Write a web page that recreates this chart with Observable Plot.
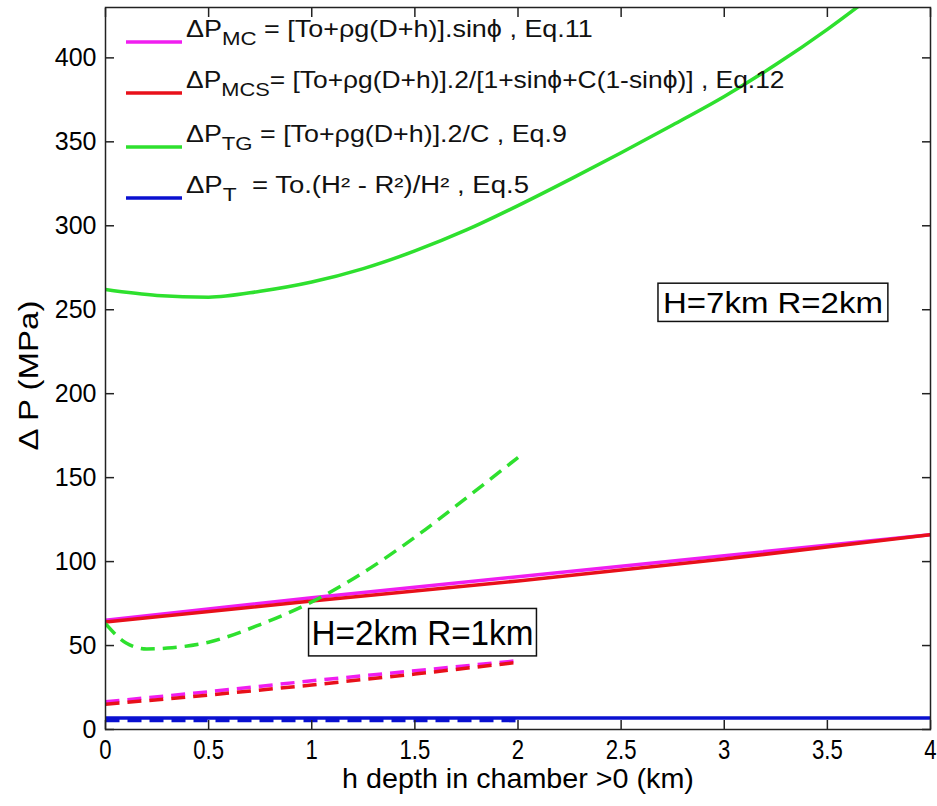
<!DOCTYPE html>
<html>
<head>
<meta charset="utf-8">
<script src="https://cdn.jsdelivr.net/npm/d3@7"></script>
<script src="https://cdn.jsdelivr.net/npm/@observablehq/plot@0.6"></script>
<style>
  html, body { margin: 0; padding: 0; background: #fff; }
  #chart { width: 937px; height: 806px; }
</style>
</head>
<body>
<div id="chart"></div>
<script>
// ---------------- DATA ----------------
const xTicks = [0, 0.5, 1, 1.5, 2, 2.5, 3, 3.5, 4];
const yTicks = [0, 50, 100, 150, 200, 250, 300, 350, 400];

// H=7km R=2km (solid lines), h from 0 to 4 km
const hLinear7 = [0, 1, 2, 3, 4];
const mcH7  = [65, 78.5, 91, 103.5, 116];     // ΔP_MC  Eq.11
const mcsH7 = [64, 76.5, 88.5, 101.5, 116];   // ΔP_MCS Eq.12
const hTG7  = [0, 0.25, 0.5, 0.75, 1, 1.25, 1.5, 1.75, 2, 2.25, 2.5, 2.75, 3, 3.25, 3.5, 3.75];
const tgH7  = [262, 258.5, 257.5, 261, 266.5, 274.5, 285, 297.5, 312, 327.5, 343.5, 360, 377, 396, 417, 440]; // ΔP_TG Eq.9
const hT7   = [0, 4];
const tH7   = [6.9, 6.9];                      // ΔP_T Eq.5

// H=2km R=1km (dashed lines), h from 0 to 2 km
const hLinear2 = [0, 0.5, 1, 1.5, 2];
const mcH2  = [16.5, 22.5, 29, 35, 41];
const mcsH2 = [15, 20.5, 26.5, 33, 40];
const hTG2  = [0, 0.1, 0.2, 0.3, 0.5, 0.75, 1, 1.25, 1.5, 1.75, 2];
const tgH2  = [63, 51.5, 48, 48.5, 52, 62.5, 76, 93.5, 114.5, 138, 162];
const hT2   = [0, 2];
const tH2   = [5.3, 5.3];

// Legend text
const legendMain = ["ΔP", "ΔP", "ΔP", "ΔP"];
const legendSub  = ["MC", "MCS", "TG", "T"];
const legendRest = [
  " = [To+ρg(D+h)].sinϕ , Eq.11",
  "= [To+ρg(D+h)].2/[1+sinϕ+C(1-sinϕ)] , Eq.12",
  " = [To+ρg(D+h)].2/C , Eq.9",
  "  = To.(H² - R²)/H² , Eq.5"
];

// Annotations
const annoLabel = ["H=7km R=2km", "H=2km R=1km"];
const annoX = [3.236, 1.537];
const annoY = [253.9, 57.4];

const xLabel = "h depth in chamber >0 (km)";
const yLabel = "Δ P (MPa)";

// ---------------- STYLES ----------------
const COLORS = { mc: "#f01ef0", mcs: "#e8101a", tg: "#2ee02e", t: "#0a10d0" };
const DASH = "14,8";
const FONT = "'Liberation Sans', Arial, Helvetica, sans-serif";

const rows = (xs, ys) => xs.map((h, i) => ({ h, v: ys[i] }));

const series = [
  { d: rows(hLinear7, mcH7),  stroke: COLORS.mc,  dash: null, curve: "linear" },
  { d: rows(hLinear7, mcsH7), stroke: COLORS.mcs, dash: null, curve: "linear" },
  { d: rows(hTG7, tgH7),      stroke: COLORS.tg,  dash: null, curve: "monotone-x" },
  { d: rows(hT7, tH7),        stroke: COLORS.t,   dash: null, curve: "linear" },
  { d: rows(hLinear2, mcH2),  stroke: COLORS.mc,  dash: DASH, curve: "linear" },
  { d: rows(hLinear2, mcsH2), stroke: COLORS.mcs, dash: DASH, curve: "linear" },
  { d: rows(hTG2, tgH2),      stroke: COLORS.tg,  dash: DASH, curve: "monotone-x" },
  { d: rows(hT2, tH2),        stroke: COLORS.t,   dash: DASH, curve: "linear" }
];

const annotations = annoLabel.map((label, i) => ({ label, x: annoX[i], y: annoY[i] }));

const plot = Plot.plot({
  width: 937,
  height: 806,
  marginLeft: 105,
  marginRight: 7,
  marginTop: 7,
  marginBottom: 77,
  style: { fontFamily: FONT, background: "#fff", color: "#000", overflow: "visible" },
  x: { domain: [0, 4] },
  y: { domain: [0, 430] },
  marks: [
    ...series.map(s => Plot.line(s.d, {
      x: "h", y: "v", stroke: s.stroke, strokeWidth: 3.5,
      strokeDasharray: s.dash, strokeLinecap: "butt", curve: s.curve, clip: true
    })),
    Plot.text(annotations, {
      x: "x", y: "y", text: "label", fill: "#000",
      fontSize: (d, i) => (i === 0 ? 30 : 36), textAnchor: "middle", lineAnchor: "middle"
    }),
    Plot.frame({ stroke: "#222", strokeWidth: 1.5 }),
    Plot.axisX({ anchor: "bottom", ticks: xTicks, tickSize: -9, tickPadding: 19,
      tickFormat: d => String(d), fontSize: 27, label: null, stroke: "#222", strokeWidth: 1.5 }),
    Plot.axisX({ anchor: "top", ticks: xTicks, tickSize: -9, tickFormat: () => "",
      label: null, stroke: "#222", strokeWidth: 1.5 }),
    Plot.axisY({ anchor: "left", ticks: yTicks, tickSize: -9, tickPadding: 18,
      tickFormat: d => String(d), fontSize: 25, label: null, stroke: "#222", strokeWidth: 1.5 }),
    Plot.axisY({ anchor: "right", ticks: yTicks, tickSize: -9, tickFormat: () => "",
      label: null, stroke: "#222", strokeWidth: 1.5 }),
    Plot.text([xLabel], { frameAnchor: "bottom", dy: 50, text: d => d, fontSize: 27,
      fill: "#000", textAnchor: "middle", lineAnchor: "middle" }),
    Plot.text([yLabel], { frameAnchor: "left", dx: -76, dy: 7, rotate: -90, text: d => d,
      fontSize: 27, fill: "#000", textAnchor: "middle", lineAnchor: "middle" })
  ]
});

document.getElementById("chart").appendChild(plot);

// ---------------- POST-PROCESSING (text shaping, boxes, legend) ----------------
const NS = "http://www.w3.org/2000/svg";
const svg = plot.tagName.toLowerCase() === "svg" ? plot : plot.querySelector("svg");

function wrap(el) {
  const g = document.createElementNS(NS, "g");
  el.parentNode.insertBefore(g, el);
  g.appendChild(el);
  return g;
}
function scaleAbout(el, sx, sy, ax) {
  const g = wrap(el);
  const b = g.getBBox();
  const cx = b.x + b.width * ax, cy = b.y + b.height / 2;
  g.setAttribute("transform", `translate(${cx},${cy}) scale(${sx},${sy}) translate(${-cx},${-cy})`);
  return g;
}
const allText = () => Array.from(svg.querySelectorAll("text"));

// x tick labels: tall & narrow in the reference
const xTickStrings = xTicks.map(String);
svg.querySelectorAll('g[aria-label="x-axis tick label"] text').forEach(t => {
  if (xTickStrings.includes(t.textContent)) scaleAbout(t, 0.82, 1, 0.5);
});

// axis titles
allText().forEach(t => {
  if (t.textContent === xLabel) {
    const w = t.getBBox().width;
    scaleAbout(t, 352 / w, 1, 0.5);
  } else if (t.textContent === yLabel) {
    const g = wrap(t);
    const b = g.getBBox();
    const cx = b.x + b.width / 2, cy = b.y + b.height / 2;
    const s = 150 / b.height;
    g.setAttribute("transform", `translate(${cx},${cy}) scale(1,${s}) translate(${-cx},${-cy})`);
  }
});

// annotation boxes
const annoWidth = [220, 222];
const annoPad = [[5, 4], [3, 6]];
allText().forEach(t => {
  const i = annoLabel.indexOf(t.textContent);
  if (i < 0) return;
  const w0 = t.getBBox().width;
  const g = scaleAbout(t, annoWidth[i] / w0, 1, 0.5);
  const b = g.getBoundingClientRect();
  const sb = svg.getBoundingClientRect();
  const r = document.createElementNS(NS, "rect");
  r.setAttribute("x", b.left - sb.left - annoPad[i][0]);
  r.setAttribute("y", b.top - sb.top - annoPad[i][1] + 2);
  r.setAttribute("width", b.width + 2 * annoPad[i][0]);
  r.setAttribute("height", b.height + 2 * annoPad[i][1] - 4);
  r.setAttribute("fill", "none");
  r.setAttribute("stroke", "#111");
  r.setAttribute("stroke-width", 1.5);
  svg.appendChild(r);
});

// legend (inside the plot, top-left)
const legendColors = [COLORS.mc, COLORS.mcs, COLORS.tg, COLORS.t];
const legendBase = [37, 88, 142, 193];
const legendEnd = [593, 785, 567, 529];
const lg = d3.select(svg).append("g")
  .attr("font-family", FONT).attr("fill", "#111").attr("text-anchor", "start");
legendMain.forEach((m, i) => {
  const y = legendBase[i];
  lg.append("line")
    .attr("x1", 126).attr("x2", 182).attr("y1", y + 5).attr("y2", y + 5)
    .attr("stroke", legendColors[i]).attr("stroke-width", 3.5);
  const t = lg.append("text").attr("x", 186).attr("y", y).attr("font-size", 23)
    .attr("text-anchor", "start");
  t.append("tspan").text(m);
  t.append("tspan").attr("dy", 8).attr("font-size", 19).text(legendSub[i]);
  t.append("tspan").attr("dy", -8).attr("font-size", 23).text(legendRest[i]);
  const w = t.node().getBBox().width;
  scaleAbout(t.node(), (legendEnd[i] - 186) / w, 1, 0);
});
</script>
</body>
</html>
